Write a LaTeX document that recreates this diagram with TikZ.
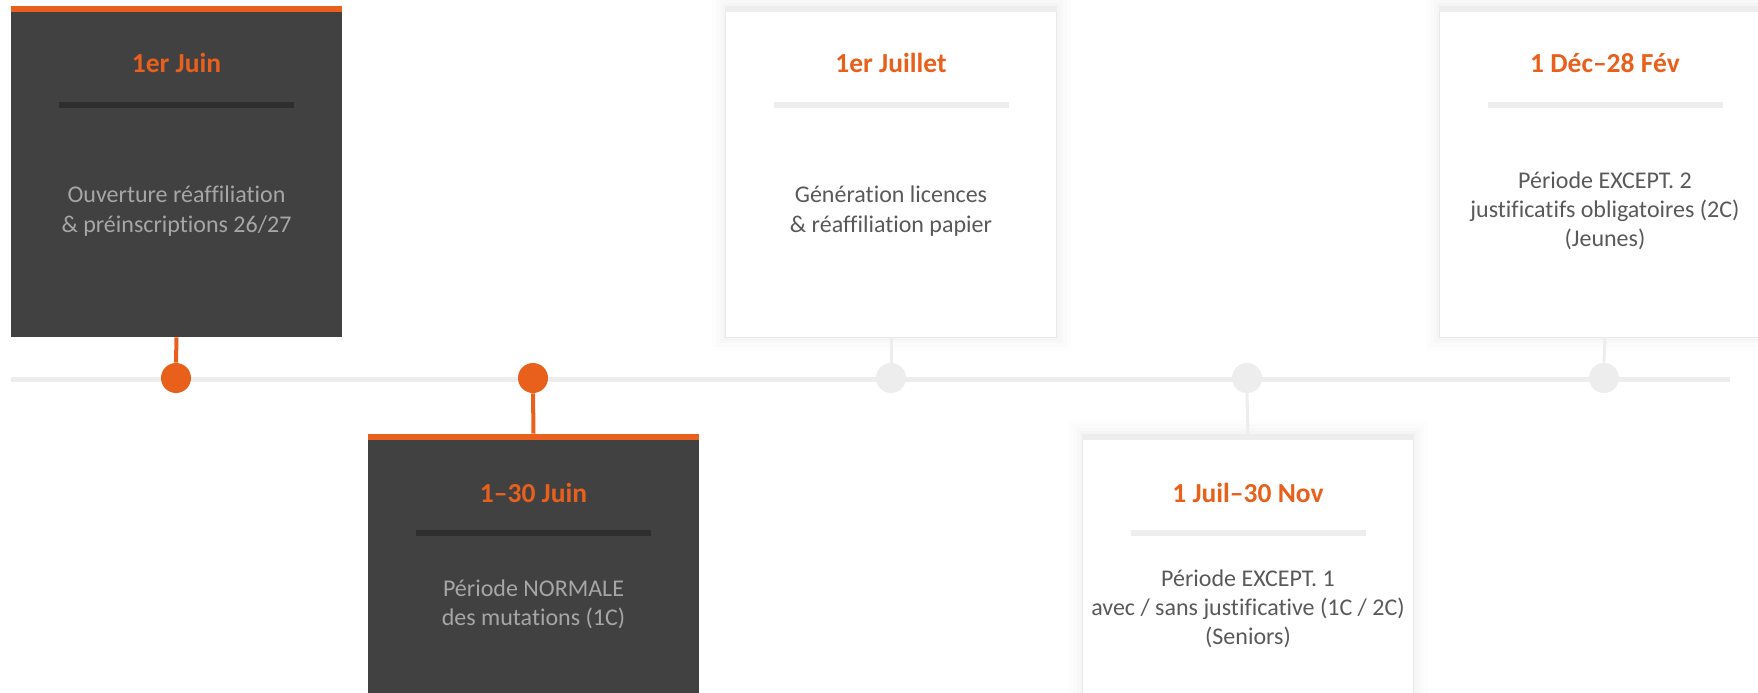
\documentclass[tikz,border=0pt]{standalone}
\usepackage{fontspec}
\setmainfont{Carlito}[Ligatures=NoCommon]
\definecolor{accent}{HTML}{E8601C}
\definecolor{darkbox}{HTML}{414141}
\definecolor{darkrule}{HTML}{2E2E2E}
\definecolor{paleline}{HTML}{EDEDED}
\definecolor{bodylight}{HTML}{595959}
\definecolor{bodydark}{HTML}{A6A6A6}
\tikzset{
  card/.style={minimum width=165.5pt,minimum height=165.5pt,inner sep=0pt},
  darkcard/.style={card,fill=darkbox},
  lightcard/.style={card,fill=white,draw=black!9,line width=0.5pt,
    preaction={draw=black,opacity=0.008,line width=14pt},
    preaction={draw=black,opacity=0.008,line width=10pt},
    preaction={draw=black,opacity=0.01,line width=6pt},
    preaction={draw=black,opacity=0.012,line width=3pt}},
  dot/.style={circle,minimum size=15pt,inner sep=0pt},
  datetext/.style={font=\fontsize{13.75}{16}\selectfont\bfseries,text=accent},
  bodytext/.style={align=center,font=\fontsize{12}{14.6}\selectfont},
}
\begin{document}
\begin{tikzpicture}[x=0.5pt,y=-0.5pt]
  \clip (0,0) rectangle (1758,692);
  \fill[white] (0,0) rectangle (1758,692);
  % timeline
  \coordinate (start) at (11,379);
  \coordinate (end) at (1730,379);
  \draw[paleline,line width=2.5pt] (start) -- (end);
  % cards
  \node[darkcard] (b1) at (176.5,171.5) {};
  \node[darkcard] (b2) at (533.5,599.5) {};
  \node[lightcard] (b3) at (891,171.5) {};
  \node[lightcard] (b4) at (1248,599.5) {};
  \node[lightcard] (b5) at (1605,171.5) {};
  \draw[accent,line width=3pt] ([yshift=-1.5pt]b1.north west) -- ([yshift=-1.5pt]b1.north east);
  \draw[accent,line width=3pt] ([yshift=-1.5pt]b2.north west) -- ([yshift=-1.5pt]b2.north east);
  \draw[paleline,line width=3pt] ([yshift=-1.5pt]b3.north west) -- ([yshift=-1.5pt]b3.north east);
  \draw[paleline,line width=3pt] ([yshift=-1.5pt]b4.north west) -- ([yshift=-1.5pt]b4.north east);
  \draw[paleline,line width=3pt] ([yshift=-1.5pt]b5.north west) -- ([yshift=-1.5pt]b5.north east);
  % dots
  \node[dot,fill=accent] (d1) at (176,378) {};
  \node[dot,fill=accent] (d2) at (533,378) {};
  \node[dot,fill=paleline] (d3) at (891,378) {};
  \node[dot,fill=paleline] (d4) at (1247,378) {};
  \node[dot,fill=paleline] (d5) at (1604,378) {};
  % stems
  \draw[accent,line width=2pt] (b1.south) -- (d1.north);
  \draw[accent,line width=2pt] (d2.south) -- (b2.north);
  \draw[paleline,line width=1.5pt] (b3.south) -- (d3.north);
  \draw[paleline,line width=1.5pt] (d4.south) -- (b4.north);
  \draw[paleline,line width=1.5pt] (b5.south) -- (d5.north);
  % dates
  \node[datetext] (t1) at (176.5,63) {1er Juin};
  \node[datetext] (t2) at (533.5,493) {1–30 Juin};
  \node[datetext] (t3) at (891,63) {1er Juillet};
  \node[datetext] (t4) at (1248,493) {1 Juil–30 Nov};
  \node[datetext] (t5) at (1605,63) {1 Déc–28 Fév};
  % rules
  \draw[darkrule,line width=3pt] (59,105) -- ++(235,0);
  \draw[darkrule,line width=3pt] (416,533) -- ++(235,0);
  \draw[paleline,line width=3pt] (773.5,105) -- ++(235,0);
  \draw[paleline,line width=3pt] (1130.5,533) -- ++(235,0);
  \draw[paleline,line width=3pt] (1487.5,105) -- ++(235,0);
  % texts
  \node[bodytext,text=bodydark] (x1) at (176.5,211) {Ouverture réaffiliation\\\& préinscriptions 26/27};
  \node[bodytext,text=bodydark] (x2) at (533.5,604) {Période NORMALE\\des mutations (1C)};
  \node[bodytext,text=bodylight] (x3) at (891,211) {Génération licences\\\& réaffiliation papier};
  \node[bodytext,text=bodylight] (x4) at (1248,609) {Période EXCEPT. 1\\avec / sans justificative (1C / 2C)\\(Seniors)};
  \node[bodytext,text=bodylight] (x5) at (1605,211) {Période EXCEPT. 2\\justificatifs obligatoires (2C)\\(Jeunes)};
\end{tikzpicture}
\end{document}
